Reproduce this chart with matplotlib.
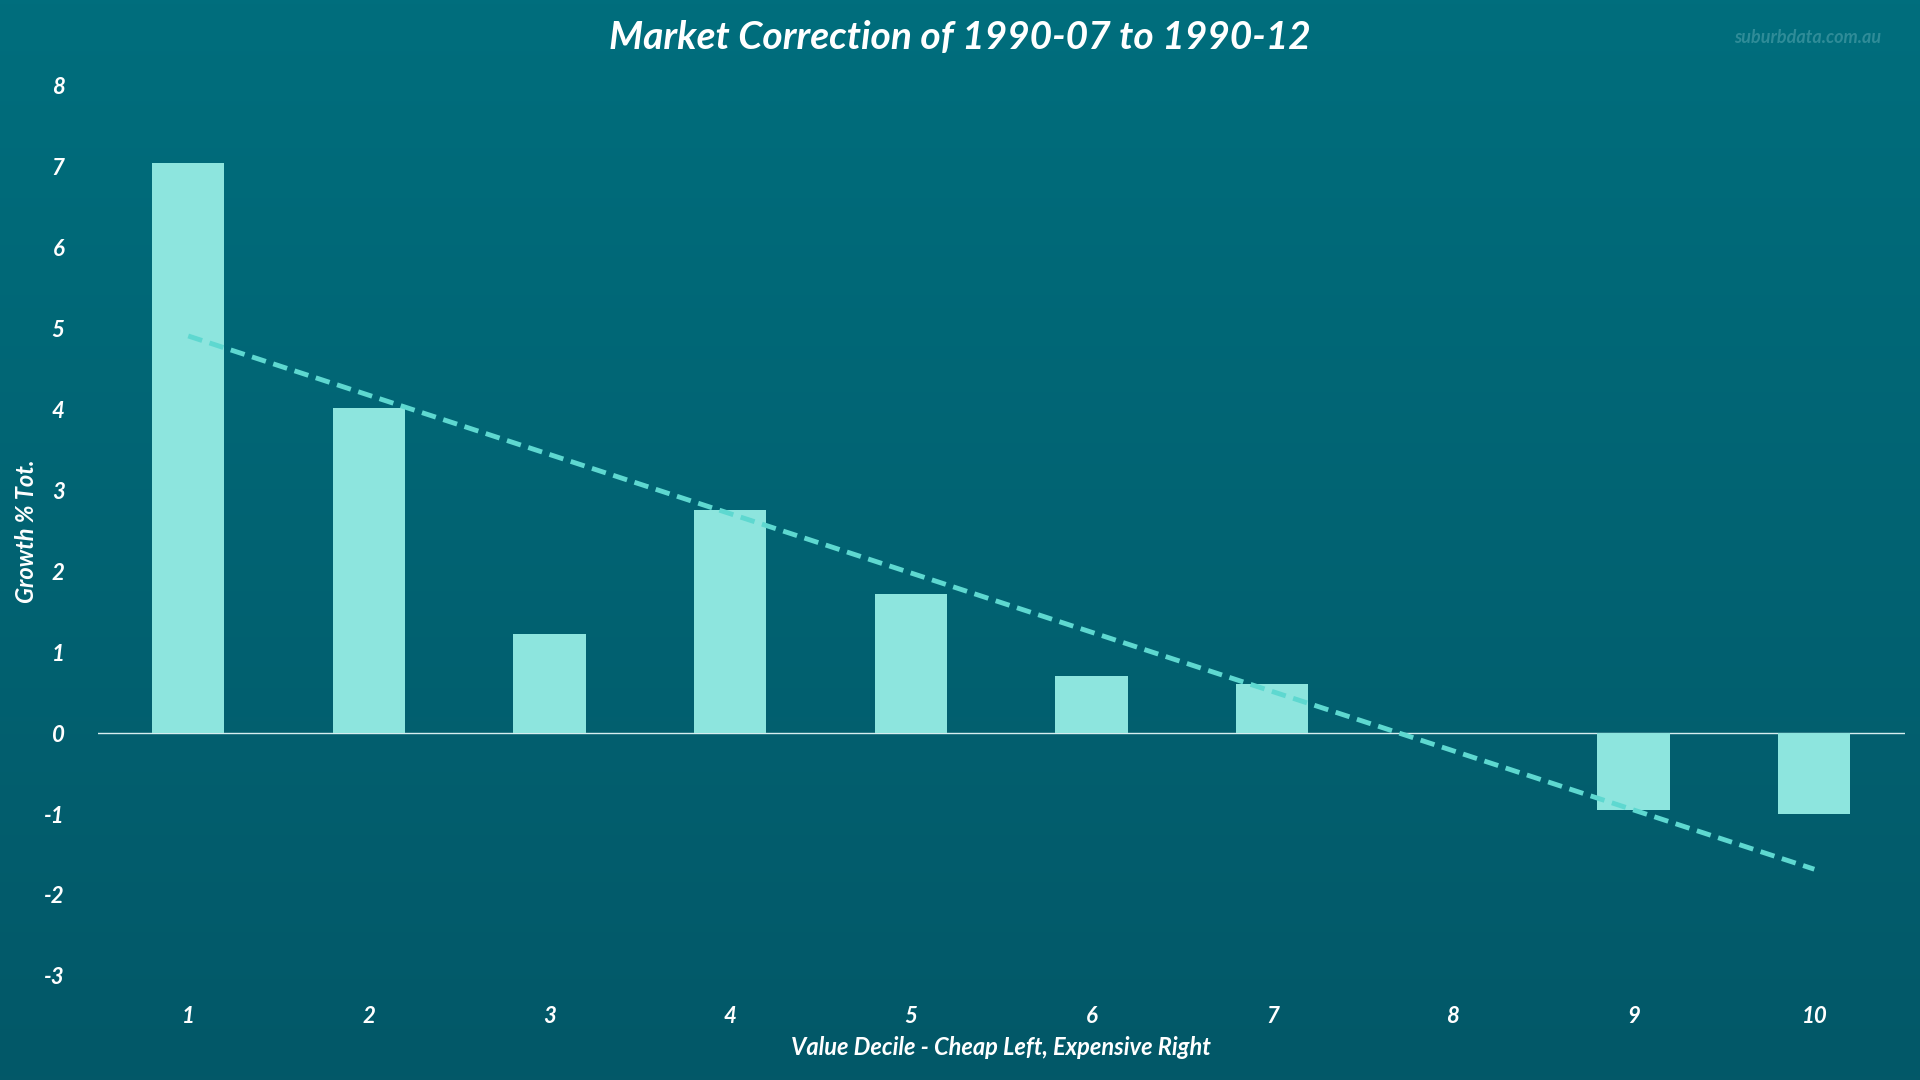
import matplotlib
matplotlib.use("Agg")
import matplotlib.pyplot as plt
import numpy as np

deciles = [1, 2, 3, 4, 5, 6, 7, 8, 9, 10]
growth = [7.05, 4.02, 1.22, 2.76, 1.72, 0.70, 0.61, 0.0, -0.95, -1.0]
yticks = [-3, -2, -1, 0, 1, 2, 3, 4, 5, 6, 7, 8]

plt.rcParams["font.family"] = ["Lato", "DejaVu Sans"]
plt.rcParams["axes.unicode_minus"] = False
fig = plt.figure(figsize=(19.2, 10.8), dpi=100)

# background gradient
bg = fig.add_axes([0, 0, 1, 1], zorder=-10)
grad = np.linspace(0, 1, 256).reshape(-1, 1)
cmap = matplotlib.colors.LinearSegmentedColormap.from_list("bg", ["#006e7d", "#035868"])
bg.imshow(grad, aspect="auto", cmap=cmap, extent=[0, 1, 0, 1], origin="upper")
bg.axis("off")

ax = fig.add_axes([0.051, 0.0964, 0.941, 0.8242])
ax.patch.set_alpha(0)
ax.bar(deciles, growth, width=0.4, color="#8de5de", zorder=2)
coef = np.polyfit(deciles, growth, 1)
xs = np.array([1, 10])
ax.plot(xs, np.polyval(coef, xs), ls=(0, (3, 1.6)), color="#5ed8d0", lw=3.5, zorder=3)
ax.axhline(0, color="#d8eef0", lw=1, zorder=1)

ax.set_xlim(0.5, 10.5)
ax.set_ylim(-3, 8)
ax.set_xticks(deciles)
ax.set_yticks(yticks)
for s in ax.spines.values():
    s.set_visible(False)
ax.tick_params(length=0, colors="white", labelsize=16)
for lab in ax.get_xticklabels() + ax.get_yticklabels():
    lab.set_fontweight("bold")
    lab.set_fontstyle("italic")
ax.tick_params(axis="y", pad=24)
ax.tick_params(axis="x", pad=22)
ax.set_xlabel("Value Decile - Cheap Left, Expensive Right", color="white",
              fontsize=17, fontweight="bold", fontstyle="italic", labelpad=6)
ax.set_ylabel("Growth % Tot.", color="white", fontsize=17,
              fontweight="bold", fontstyle="italic", labelpad=4)

fig.text(0.5, 0.965, "Market Correction of 1990-07 to 1990-12", color="white",
         fontsize=28, fontweight="bold", fontstyle="italic", ha="center", va="center")
fig.text(0.98, 0.965, "suburbdata.com.au", color="#2f8c98", fontsize=13,
         fontweight="bold", fontstyle="italic", ha="right", va="center")

fig.savefig("out.png", dpi=100)
